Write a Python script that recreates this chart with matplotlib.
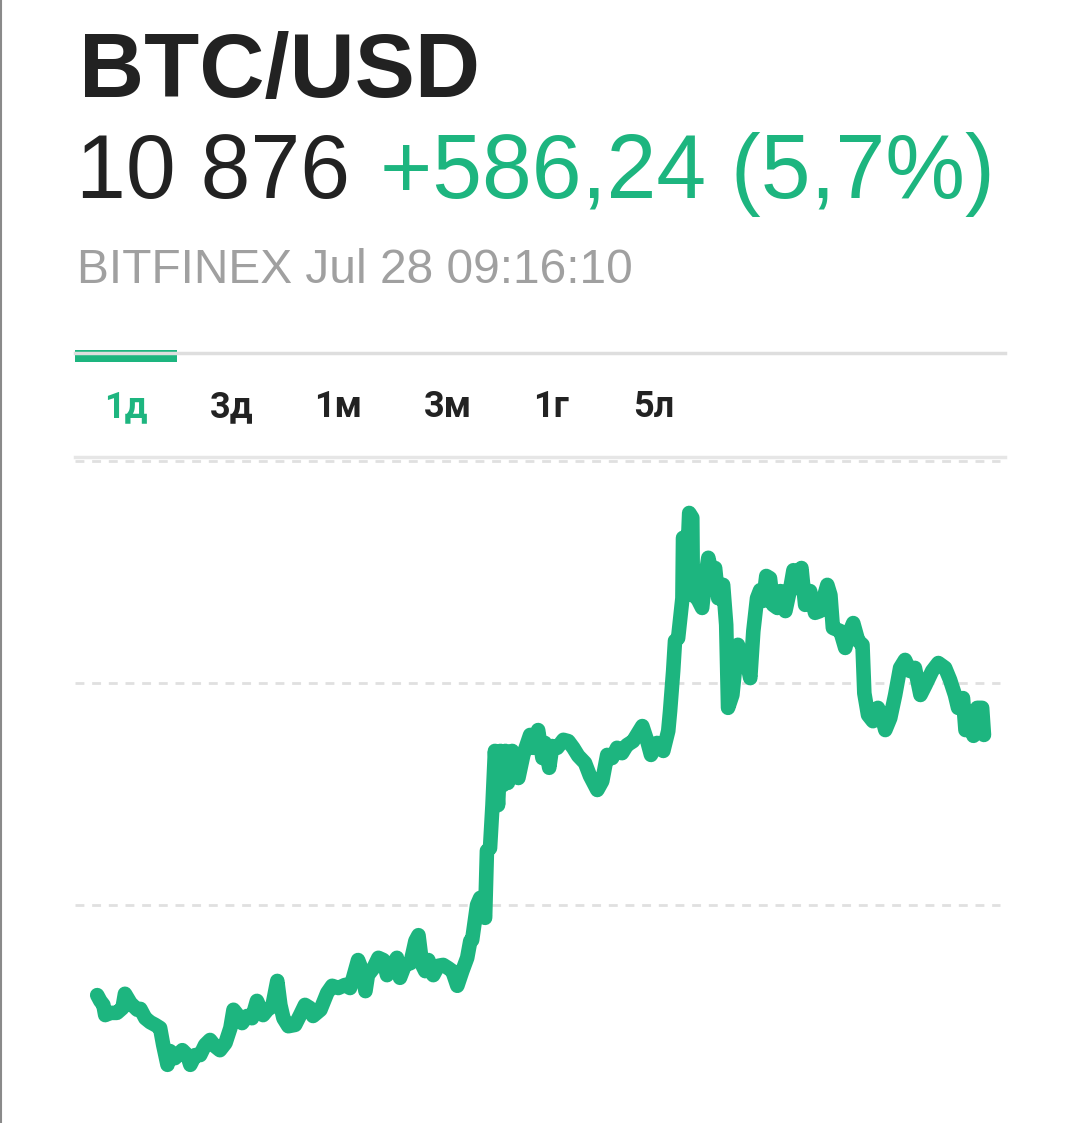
import matplotlib
matplotlib.use("Agg")
import matplotlib.pyplot as plt
from matplotlib.lines import Line2D
from matplotlib.patches import Rectangle

plt.rcParams['font.family'] = ['Liberation Sans', 'DejaVu Sans']

# ---- data ----
pair = "BTC/USD"
last_price = "10 876"
change_text = "+586,24 (5,7%)"
source_text = "BITFINEX Jul 28 09:16:10"
tabs = ["1д", "3д", "1м", "3м", "1г", "5л"]
grid_levels = [10500, 11000, 11500]

minutes = [0, 5, 10, 13, 21, 32, 41, 45, 54, 65, 70, 78, 86, 94, 102, 107, 114, 118, 126, 138,
           146, 151, 159, 167, 175, 183, 191, 199, 208, 216, 221, 229, 235, 243, 251, 259, 264, 269, 276, 284,
           292, 297, 302, 310, 321, 329, 337, 345, 350, 362, 373, 381, 391, 402, 410, 415, 423, 430, 435, 439,
           448, 456, 464, 470, 478, 486, 491, 499, 508, 516, 521, 527, 532, 537, 545, 553, 561, 569, 576, 584,
           592, 600, 605, 608, 616, 621, 629, 632, 637, 641, 645, 650, 654, 658, 662, 666, 673, 683, 691, 702,
           707, 715, 722, 726, 733, 738, 746, 756, 764, 772, 780, 791, 799, 811, 819, 827, 835, 843, 851, 859,
           869, 884, 892, 898, 908, 918, 926, 929, 934, 937, 942, 949, 950, 957, 960, 965, 966, 973, 981, 986,
           991, 997, 1002, 1007, 1015, 1020, 1023, 1030, 1035, 1039, 1046, 1052, 1059, 1064, 1070, 1075, 1080, 1085, 1091, 1096,
           1103, 1108, 1116, 1124, 1129, 1135, 1142, 1148, 1156, 1164, 1172, 1184, 1189, 1193, 1205, 1213, 1218, 1226, 1234, 1241,
           1244, 1250, 1258, 1266, 1273, 1278, 1286, 1294, 1302, 1310, 1318, 1326, 1335, 1343, 1354, 1364, 1375, 1383, 1391, 1396,
           1404, 1408, 1416, 1421, 1427, 1435, 1438]
prices = [10297, 10284, 10275, 10252, 10257, 10257, 10268, 10300, 10279, 10264, 10266, 10245, 10236, 10230, 10223, 10185, 10140, 10171, 10155, 10173,
          10162, 10140, 10162, 10162, 10185, 10196, 10182, 10173, 10189, 10223, 10264, 10250, 10234, 10250, 10245, 10284, 10268, 10252, 10264, 10272,
          10329, 10275, 10245, 10227, 10230, 10252, 10275, 10268, 10250, 10264, 10302, 10318, 10313, 10320, 10313, 10336, 10376, 10351, 10306, 10342,
          10358, 10381, 10376, 10342, 10363, 10381, 10336, 10365, 10369, 10419, 10432, 10365, 10351, 10376, 10342, 10363, 10365, 10358, 10351, 10318,
          10351, 10381, 10419, 10421, 10500, 10516, 10471, 10622, 10628, 10725, 10847, 10725, 10847, 10770, 10847, 10775, 10847, 10786, 10838, 10883,
          10854, 10894, 10831, 10865, 10809, 10858, 10854, 10872, 10869, 10854, 10836, 10820, 10791, 10759, 10779, 10838, 10831, 10854, 10842, 10860,
          10869, 10903, 10869, 10838, 10865, 10847, 10892, 10937, 11027, 11095, 11101, 11191, 11327, 11282, 11383, 11372, 11198, 11191, 11169, 11236,
          11282, 11243, 11259, 11191, 11221, 11131, 10944, 10973, 11041, 11086, 11050, 11056, 11011, 11117, 11191, 11209, 11185, 11241, 11236, 11176,
          11169, 11207, 11162, 11214, 11254, 11214, 11259, 11176, 11207, 11158, 11162, 11221, 11198, 11124, 11117, 11079, 11108, 11135, 11095, 11086,
          10977, 10928, 10914, 10944, 10921, 10894, 10921, 10973, 11034, 11052, 11027, 11034, 10973, 10995, 11027, 11045, 11034, 11007, 10973, 10944,
          10966, 10894, 10905, 10881, 10944, 10944, 10883]

GREEN = "#1db57f"
DARK = "#222222"
GRAY_TXT = "#a0a0a0"
GRID = "#e0e0e0"

W, H = 1080, 1123
fig = plt.figure(figsize=(W / 100, H / 100), dpi=100)
fig.patch.set_facecolor("white")

def fx(px):
    return px / W

def fy(py):
    return 1 - py / H

# left border of screenshot
fig.add_artist(Line2D([fx(1), fx(1)], [0, 1], color="#8a8a8a", lw=1.5, transform=fig.transFigure))

# header texts
fig.text(fx(79), fy(97), pair, fontsize=65, fontweight="bold", color=DARK, va="baseline", ha="left")
fig.text(fx(76), fy(198), last_price, fontsize=64.5, color=DARK, va="baseline", ha="left")
fig.text(fx(380), fy(198), change_text, fontsize=64.5, color=GREEN, va="baseline", ha="left")
fig.text(fx(77), fy(283), source_text, fontsize=34.5, color=GRAY_TXT, va="baseline", ha="left")

# tab bar
fig.add_artist(Line2D([fx(75), fx(1005)], [fy(353), fy(353)], color="#dedede", lw=2.5, transform=fig.transFigure))
fig.add_artist(Rectangle((fx(75), fy(362)), fx(177) - fx(75), (362 - 350) / H, color=GREEN,
                         transform=fig.transFigure, lw=0))
tab_x = [126, 232, 338, 448, 551, 654]
for i, (lab, x) in enumerate(zip(tabs, tab_x)):
    fig.text(fx(x), fy(417), lab, fontsize=26, fontweight="bold", color=GREEN if i == 0 else DARK,
             va="baseline", ha="center", family=["Roboto", "DejaVu Sans"])

# separator under tabs
fig.add_artist(Line2D([fx(75), fx(1005)], [fy(457), fy(457)], color="#e6e6e6", lw=2.5, transform=fig.transFigure))

# chart axes
ax = fig.add_axes([fx(75), fy(1101), fx(1000) - fx(75), (1101 - 461) / H])
ax.set_xlim(-36, 1464)
ax.set_ylim(11500 - 640 * 2.2523, 11500)
for lv in grid_levels:
    ax.axhline(lv, color=GRID, lw=2.0, ls=(0, (3.2, 2.8)), clip_on=False, zorder=1)
ax.plot(minutes, prices, color=GREEN, lw=10.5, solid_joinstyle="round", solid_capstyle="round", zorder=3)
ax.axis("off")

fig.savefig("out.png", dpi=100, facecolor="white")
